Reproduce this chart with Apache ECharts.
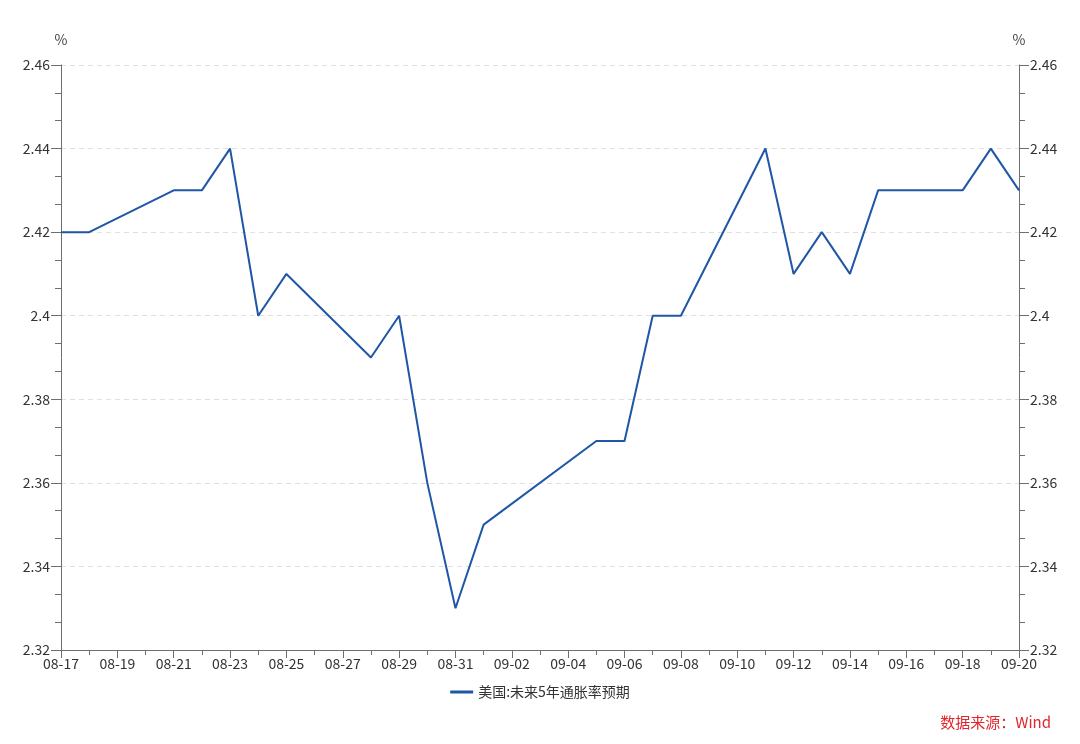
<!DOCTYPE html>
<html>
<head>
<meta charset="utf-8">
<script src="https://cdn.jsdelivr.net/npm/echarts@6/dist/echarts.min.js"></script>
<style>
html,body{margin:0;padding:0;background:#fff;}
#c{width:1080px;height:744px;}
</style>
</head>
<body>
<div id="c"></div>
<script>
const categories = [
  '08-17','08-18','08-19','08-20','08-21','08-22','08-23','08-24','08-25','08-26',
  '08-27','08-28','08-29','08-30','08-31','09-01','09-02','09-03','09-04','09-05',
  '09-06','09-07','09-08','09-09','09-10','09-11','09-12','09-13','09-14','09-15',
  '09-16','09-17','09-18','09-19','09-20'
];
const seriesName = '美国:未来5年通胀率预期';
const values = [
  2.42, 2.42, null, null, 2.43, 2.43, 2.44, 2.40, 2.41, null,
  null, 2.39, 2.40, 2.36, 2.33, 2.35, null, null, null, 2.37,
  2.37, 2.40, 2.40, null, null, 2.44, 2.41, 2.42, 2.41, 2.43,
  null, null, 2.43, 2.44, 2.43
];
const yMin = 2.32, yMax = 2.46, yStep = 0.02;
const sourceText = '数据来源：Wind';

const font = '"Noto Sans CJK SC", "Noto Sans", sans-serif';
const axisColor = '#6e6e6e';
const labelColor = '#333';

function yAxisCfg(pos) {
  return {
    type: 'value', position: pos, min: yMin, max: yMax, interval: yStep,
    name: '%', nameLocation: 'end', nameGap: 18,
    nameTextStyle: { color: '#444', fontSize: 14, fontFamily: font, align: 'center' },
    axisLine: { show: true, lineStyle: { color: axisColor, width: 1 } },
    axisTick: { show: true, length: 10, lineStyle: { color: axisColor } },
    minorTick: { show: true, splitNumber: 3, length: 6, lineStyle: { color: axisColor } },
    axisLabel: { color: labelColor, fontSize: 14, fontFamily: font, margin: 11,
      formatter: v => String(parseFloat(v.toFixed(2))) },
    splitLine: { show: pos === 'left', lineStyle: { color: '#e0e0e0', type: [5, 4] } }
  };
}

const chart = echarts.init(document.getElementById('c'), null, { renderer: 'canvas' });
chart.setOption({
  backgroundColor: '#fff',
  animation: false,
  grid: { left: 61, right: 61, top: 65, bottom: 94, containLabel: false },
  legend: {
    bottom: 40, left: 'center',
    itemWidth: 23, itemHeight: 3, itemGap: 10,
    icon: 'rect',
    textStyle: { color: labelColor, fontSize: 14, fontFamily: font },
    data: [seriesName]
  },
  xAxis: [
    {
      type: 'category', data: categories, boundaryGap: false, position: 'bottom',
      axisLine: { show: true, lineStyle: { color: axisColor } },
      axisTick: { show: true, interval: 0, length: 5, lineStyle: { color: axisColor } },
      axisLabel: { interval: 1, color: labelColor, fontSize: 14, fontFamily: font, margin: 7 },
      splitLine: { show: false }
    },
    {
      type: 'category', data: categories, boundaryGap: false, position: 'bottom',
      axisLine: { show: false },
      axisTick: { show: true, interval: 1, length: 8, lineStyle: { color: axisColor } },
      axisLabel: { show: false },
      splitLine: { show: false }
    }
  ],
  yAxis: [yAxisCfg('left'), yAxisCfg('right')],
  graphic: [{
    type: 'text', right: 29, bottom: 14,
    style: { text: sourceText, fill: '#e0262b', fontSize: 15, fontFamily: font }
  }],
  series: [{
    name: seriesName, type: 'line', data: values, connectNulls: true,
    xAxisIndex: 0, yAxisIndex: 0,
    showSymbol: false, symbol: 'none',
    lineStyle: { color: '#1f56a6', width: 2 },
    itemStyle: { color: '#1f56a6' }
  }]
});
</script>
</body>
</html>
